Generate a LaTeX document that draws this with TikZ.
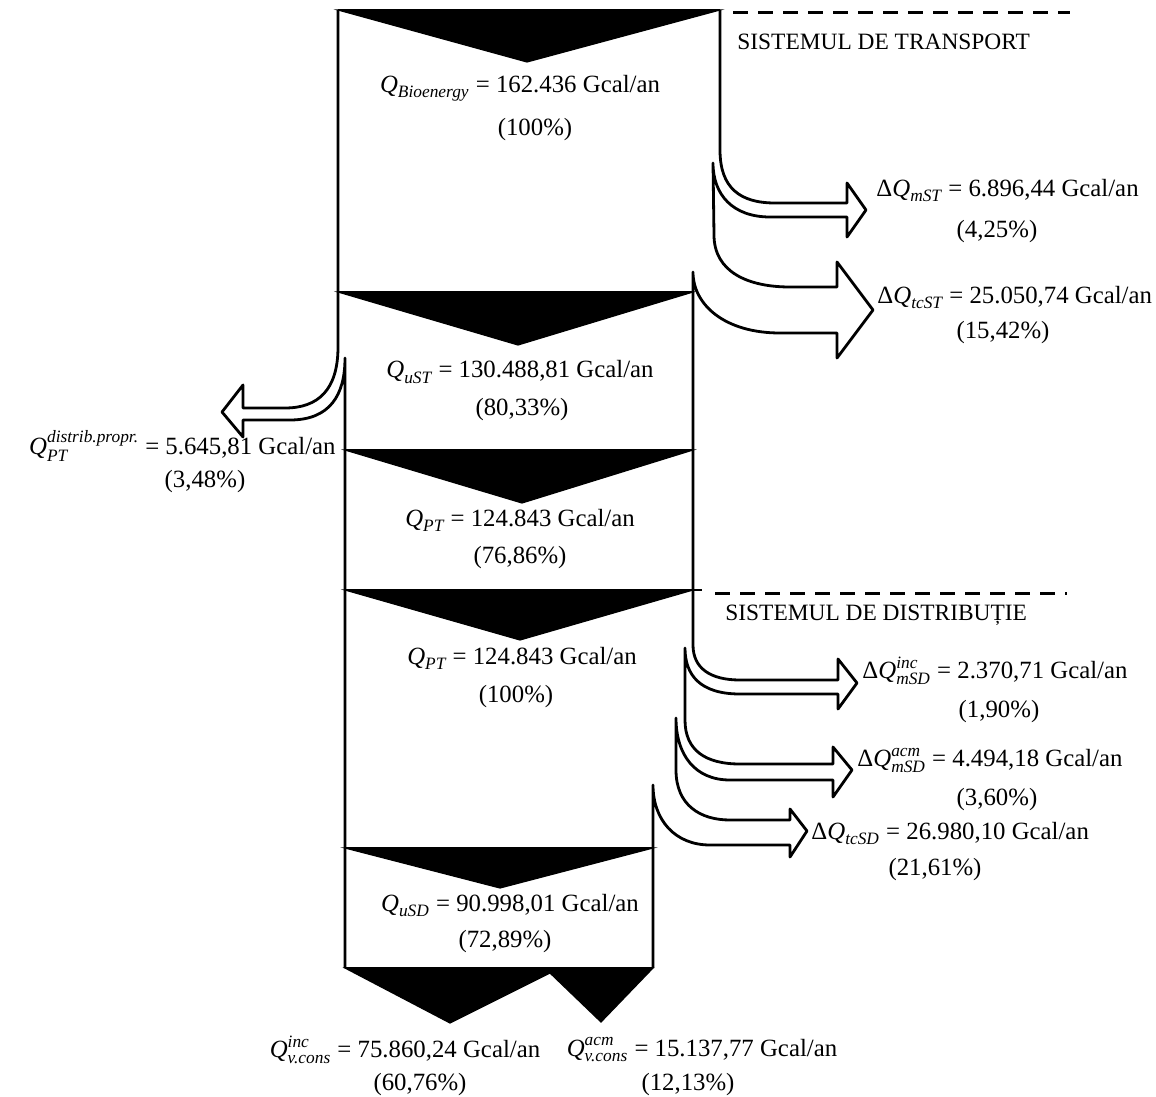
\documentclass[tikz,border=0pt]{standalone}
\usepackage{amsmath}
\usepackage{fontspec}
\setmainfont{Liberation Serif}
\begin{document}
\begin{tikzpicture}[x=0.5pt,y=-0.5pt,
  outline/.style={line width=1.4pt,line join=round},
  tri/.style={fill=black,draw=black,line width=0.6pt},
  sysline/.style={line width=1.5pt,dash pattern=on 7.5pt off 5pt},
  eq/.style={inner sep=0pt,font=\fontsize{12.4}{15}\selectfont},
  syslabel/.style={inner sep=0pt,anchor=west,font=\fontsize{11.7}{14}\selectfont}]
\useasboundingbox (0,0) rectangle (1156,1097);
% black triangles
\fill[tri] (338,10) -- (720,10) -- (527,62) -- cycle;
\fill[tri] (338,292) -- (693,292) -- (518,345) -- cycle;
\fill[tri] (345,450) -- (693,450) -- (522,503) -- cycle;
\fill[tri] (345,590) -- (693,590) -- (520,640) -- cycle;
\fill[tri] (345,848) -- (653,848) -- (500,888) -- cycle;
\fill[tri] (345,968) -- (653,968) -- (601,1022) -- (550,973) -- (450,1023) -- cycle;
% horizontal section lines
\draw[outline] (338,10) -- (720,10);
\draw[outline] (338,292) -- (693,292);
\draw[outline] (345,450) -- (693,450);
\draw[outline] (345,590) -- (702,590);
\draw[outline] (345,848) -- (653,848);
\draw[outline] (345,968) -- (653,968);
% left outline with distribution-own arrow
\draw[outline] (338,10) -- (338,347) .. controls (338,390) and (318,408) .. (285,408)
  -- (243,408) -- (243,385) -- (222,412) -- (243,437) -- (243,420) -- (290,420)
  .. controls (330,420) and (345,395) .. (345,358) -- (345,968);
% right outline with loss arrows
\draw[outline] (720,10) -- (720,150) .. controls (720,188) and (740,203) .. (775,203)
  -- (847,203) -- (847,183) -- (866,210) -- (847,237) -- (847,217) -- (770,217)
  .. controls (733,217) and (713,195) .. (713,163)
  -- (714,235) .. controls (714,272) and (748,287) .. (790,287)
  -- (837,287) -- (837,262) -- (873,310) -- (837,358) -- (837,333) -- (780,333)
  .. controls (725,333) and (693,305) .. (693,272)
  -- (693,645) .. controls (693,668) and (710,680) .. (740,680)
  -- (838,680) -- (838,659) -- (857,683) -- (838,709) -- (838,694) -- (740,694)
  .. controls (700,694) and (685,675) .. (685,648)
  -- (685,720) .. controls (685,750) and (705,764) .. (740,764)
  -- (833,764) -- (833,747) -- (852,770) -- (833,797) -- (833,780) -- (730,780)
  .. controls (695,780) and (676,755) .. (676,718)
  -- (676,770) .. controls (676,805) and (700,820) .. (730,820)
  -- (790,820) -- (790,809) -- (807,831) -- (790,857) -- (790,845) -- (710,845)
  .. controls (675,845) and (653,820) .. (653,785) -- (653,968);
% system boundaries
\draw[sysline] (733,13) -- (1070,13);
\draw[sysline] (715,593) -- (1067,593);
\node[syslabel] (st) at (737,42) {SISTEMUL DE TRANSPORT};
\node[syslabel] (sd) at (725,615) {SISTEMUL DE DISTRIBUȚIE};
% values
\node[eq] (qb) at (520,88) {$\textit{Q}_{\textit{Bioenergy}}$ = 162.436 Gcal/an};
\node[eq] (qbp) at (535,130) {(100\%)};
\node[eq,anchor=west] (mst) at (876,190) {Δ$\textit{Q}_{\textit{mST}}$ = 6.896,44 Gcal/an};
\node[eq] (mstp) at (997,232) {(4,25\%)};
\node[eq,anchor=west] (tcst) at (877,297) {Δ$\textit{Q}_{\textit{tcST}}$ = 25.050,74 Gcal/an};
\node[eq] (tcstp) at (1003,333) {(15,42\%)};
\node[eq] (ust) at (520,372) {$\textit{Q}_{\textit{uST}}$ = 130.488,81 Gcal/an};
\node[eq] (ustp) at (522,410) {(80,33\%)};
\node[eq,anchor=east] (dp) at (336,446) {$\textit{Q}^{\textit{distrib.propr.}}_{\textit{PT}}$ = 5.645,81 Gcal/an};
\node[eq] (dpp) at (205,482) {(3,48\%)};
\node[eq] (pt1) at (520,520) {$\textit{Q}_{\textit{PT}}$ = 124.843 Gcal/an};
\node[eq] (pt1p) at (520,558) {(76,86\%)};
\node[eq] (pt2) at (522,658) {$\textit{Q}_{\textit{PT}}$ = 124.843 Gcal/an};
\node[eq] (pt2p) at (516,697) {(100\%)};
\node[eq,anchor=west] (msdi) at (862,671) {Δ$\textit{Q}^{\textit{inc}}_{\textit{mSD}}$ = 2.370,71 Gcal/an};
\node[eq] (msdip) at (999,712) {(1,90\%)};
\node[eq,anchor=west] (msda) at (857,760) {Δ$\textit{Q}^{\textit{acm}}_{\textit{mSD}}$ = 4.494,18 Gcal/an};
\node[eq] (msdap) at (997,800) {(3,60\%)};
\node[eq,anchor=west] (tcsd) at (811,833) {Δ$\textit{Q}_{\textit{tcSD}}$ = 26.980,10 Gcal/an};
\node[eq] (tcsdp) at (935,870) {(21,61\%)};
\node[eq] (usd) at (510,905) {$\textit{Q}_{\textit{uSD}}$ = 90.998,01 Gcal/an};
\node[eq] (usdp) at (505,942) {(72,89\%)};
\node[eq] (vi) at (405,1050) {$\textit{Q}^{\textit{inc}}_{\textit{v.cons}}$ = 75.860,24 Gcal/an};
\node[eq] (vip) at (420,1085) {(60,76\%)};
\node[eq] (va) at (702,1050) {$\textit{Q}^{\textit{acm}}_{\textit{v.cons}}$ = 15.137,77 Gcal/an};
\node[eq] (vap) at (688,1085) {(12,13\%)};
\end{tikzpicture}
\end{document}
